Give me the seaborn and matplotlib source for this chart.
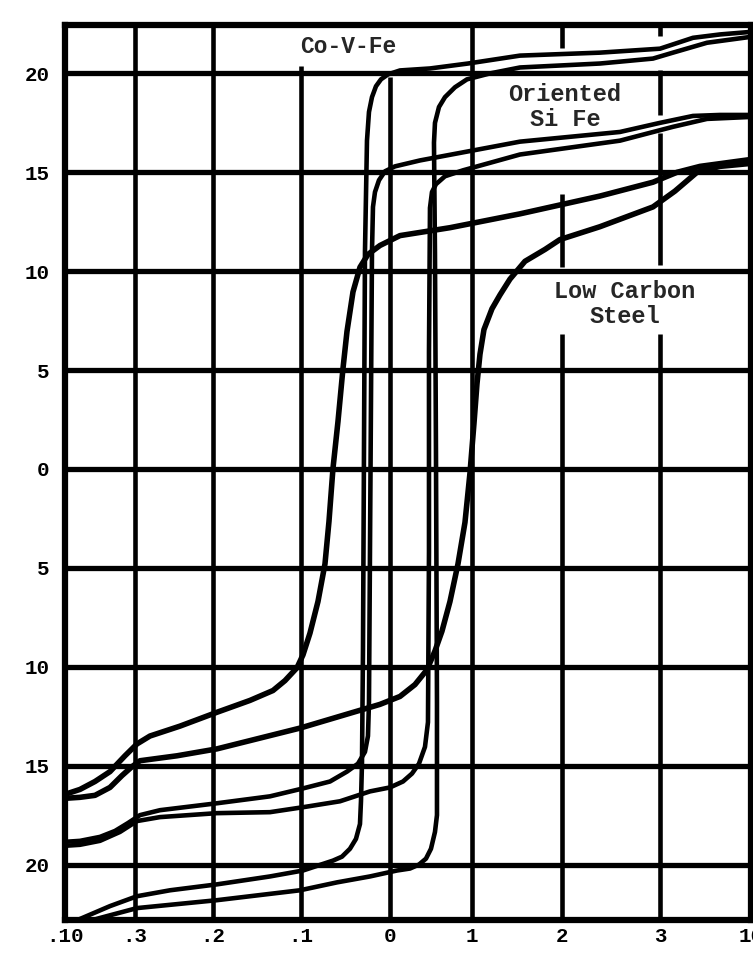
import matplotlib
matplotlib.use("Agg")
import matplotlib.pyplot as plt
import pandas as pd
import seaborn as sns

# x is in grid units (0 = the "0" line), y is B
X_TICKS = [-3.25, -2.55, -1.77, -0.89, 0.0, 0.82, 1.72, 2.70, 3.61]
X_LABELS = [".10", ".3", ".2", ".1", "0", "1", "2", "3", "10"]
Y_TICKS = [20, 15, 10, 5, 0, -5, -10, -15, -20]
Y_LABELS = ["20", "15", "10", "5", "0", "5", "10", "15", "20"]

# Low carbon steel
lc_down_h = [3.61, 3.10, 2.87, 2.63, 2.10, 1.30, 0.60, 0.10, -0.10, -0.22, -0.30, -0.37,
             -0.43, -0.47, -0.52, -0.57, -0.61, -0.65, -0.72, -0.80, -0.87, -0.93, -1.05,
             -1.17, -1.40, -1.73, -2.10, -2.40, -2.53, -2.65, -2.80, -2.95, -3.10, -3.25]
lc_down_b = [15.65, 15.3, 15.0, 14.5, 13.8, 12.9, 12.2, 11.8, 11.3, 10.85, 10.2, 8.95,
             6.95, 5.08, 2.4, 0.03, -2.65, -4.8, -6.7, -8.3, -9.4, -10.05, -10.7,
             -11.2, -11.7, -12.3, -13.0, -13.5, -13.9, -14.5, -15.3, -15.8, -16.2, -16.45]
lc_up_h = [-3.25, -3.10, -2.95, -2.80, -2.68, -2.58, -2.50, -2.13, -1.73, -0.90, -0.10,
           0.10, 0.25, 0.37, 0.45, 0.52, 0.60, 0.68, 0.75, 0.80, 0.84, 0.87, 0.90, 0.94,
           1.02, 1.10, 1.20, 1.35, 1.55, 1.70, 2.10, 2.63, 2.85, 3.07, 3.30, 3.61]
lc_up_b = [-16.65, -16.6, -16.5, -16.1, -15.5, -15.05, -14.75, -14.5, -14.15, -13.1, -11.9,
           -11.5, -10.9, -10.15, -9.2, -8.2, -6.7, -4.8, -2.7, -0.2, 2.3, 4.3, 5.8, 7.05,
           8.1, 8.8, 9.6, 10.5, 11.1, 11.6, 12.25, 13.25, 14.05, 15.0, 15.3, 15.45]

# Oriented Si Fe
si_down_h = [3.61, 3.30, 3.03, 2.70, 2.30, 1.30, 0.70, 0.30, 0.05, -0.05, -0.11, -0.15,
             -0.17, -0.18, -0.19, -0.20, -0.21, -0.22, -0.25, -0.32, -0.43, -0.60, -0.87,
             -1.20, -1.73, -2.30, -2.50, -2.62, -2.75, -2.90, -3.10, -3.25]
si_down_b = [17.9, 17.9, 17.85, 17.5, 17.04, 16.55, 15.98, 15.6, 15.3, 15.05, 14.6, 14.0,
             13.25, 10.97, 3.4, -4.2, -11.8, -13.5, -14.3, -14.9, -15.3, -15.8, -16.15,
             -16.55, -16.9, -17.25, -17.5, -17.9, -18.3, -18.6, -18.8, -18.85]
si_up_h = [-3.25, -3.10, -2.90, -2.70, -2.53, -2.30, -1.73, -1.20, -0.87, -0.50, -0.20,
           0.00, 0.13, 0.22, 0.29, 0.35, 0.38, 0.39, 0.39, 0.40, 0.42, 0.46, 0.55, 0.73,
           1.30, 2.30, 2.83, 3.17, 3.61]
si_up_b = [-19.05, -19.0, -18.8, -18.35, -17.8, -17.6, -17.4, -17.35, -17.1, -16.8, -16.3,
           -16.1, -15.8, -15.4, -14.9, -14.05, -12.8, -4.2, 5.9, 13.2, 14.0, 14.4, 14.8, 15.1,
           15.9, 16.6, 17.3, 17.7, 17.8]

# Co-V-Fe
co_down_h = [3.61, 3.30, 3.03, 2.85, 2.70, 2.10, 1.30, 0.78, 0.40, 0.10, -0.02, -0.09,
             -0.14, -0.18, -0.21, -0.23, -0.25, -0.26, -0.27, -0.28, -0.29, -0.30, -0.34,
             -0.40, -0.48, -0.57, -0.87, -1.20, -1.73, -2.20, -2.53, -2.80, -3.10, -3.25]
co_down_b = [22.1, 21.97, 21.8, 21.5, 21.25, 21.05, 20.9, 20.5, 20.25, 20.15, 19.95, 19.7,
             19.35, 18.8, 18.05, 16.6, 11.0, 0.9, -9.2, -14.9, -16.8, -17.95, -18.7,
             -19.2, -19.6, -19.8, -20.3, -20.6, -21.0, -21.3, -21.6, -22.1, -22.75, -23.05]
co_up_h = [-3.25, -2.90, -2.53, -1.73, -0.90, -0.53, -0.20, 0.07, 0.20, 0.29, 0.36, 0.41,
           0.45, 0.47, 0.47, 0.46, 0.45, 0.44, 0.45, 0.49, 0.55, 0.65, 0.77, 1.00, 1.30,
           2.10, 2.63, 2.83, 3.17, 3.61]
co_up_b = [-23.2, -22.7, -22.2, -21.8, -21.3, -20.9, -20.6, -20.3, -20.2, -20.0, -19.7, -19.2,
           -18.35, -17.5, -11.8, 0.8, 10.9, 16.5, 17.5, 18.3, 18.8, 19.3, 19.7, 20.0, 20.3,
           20.5, 20.75, 21.05, 21.55, 21.85]

branches = {
    "lc_down": (lc_down_h, lc_down_b), "lc_up": (lc_up_h, lc_up_b),
    "si_down": (si_down_h, si_down_b), "si_up": (si_up_h, si_up_b),
    "co_down": (co_down_h, co_down_b), "co_up": (co_up_h, co_up_b),
}
frames = []
for name, (h, b) in branches.items():
    frames.append(pd.DataFrame({"H": h, "B": b, "curve": name}))
df = pd.concat(frames, ignore_index=True)

sns.set_style("white")
plt.rcParams["font.family"] = ["Liberation Mono", "DejaVu Sans Mono"]
plt.rcParams["font.weight"] = "bold"

fig = plt.figure(figsize=(7.53, 9.56), dpi=100)
ax = fig.add_axes([0.0863, 0.0377, 0.911, 0.9362])

# grid, drawn by hand because parts are broken around the labels
for y in Y_TICKS:
    ax.axhline(y, color="black", lw=3.8, zorder=1)
full_v = [-2.55, -1.77, 0.82]
for x in full_v:
    ax.axvline(x, color="black", lw=3.3, zorder=1)
ax.vlines(-0.89, -23, 20.35, color="black", lw=3.3, zorder=1)
ax.vlines(0.0, -23, 19.8, color="black", lw=3.3, zorder=1)
ax.vlines([1.72, 1.72, 1.72], [21.3, 10.2, -23], [23, 13.9, 6.8], color="black", lw=3.3, zorder=1)
ax.vlines([2.70, 2.70, 2.70, 2.70], [21.9, 17.9, 10.3, -23], [23, 20.15, 17.0, 6.8],
          color="black", lw=3.3, zorder=1)

# steel loop is drawn heavier than the two square loops
sns.lineplot(data=df[df["curve"].str.startswith("lc")], x="H", y="B", units="curve",
             estimator=None, sort=False, color="black", lw=4.0, ax=ax, zorder=3)
sns.lineplot(data=df[~df["curve"].str.startswith("lc")], x="H", y="B", units="curve",
             estimator=None, sort=False, color="black", lw=3.3, ax=ax, zorder=3)

ax.set_xlim(-3.25, 3.61)
ax.set_ylim(-22.8, 22.45)
ax.set_xticks(X_TICKS)
ax.set_xticklabels(X_LABELS)
ax.set_yticks(Y_TICKS)
ax.set_yticklabels(Y_LABELS)
ax.tick_params(length=0, labelsize=15, colors="black")
ax.tick_params(axis="y", pad=11)
ax.tick_params(axis="x", pad=5)
ax.set_xlabel("")
ax.set_ylabel("")
for s in ax.spines.values():
    s.set_visible(True)
    s.set_color("black")
    s.set_linewidth(4.5)
    s.set_zorder(4)

ax.text(-0.42, 21.35, "Co-V-Fe", ha="center", va="center", fontsize=16.5, fontweight="bold")
ax.text(1.75, 18.3, "Oriented\nSi Fe", ha="center", va="center", fontsize=17,
        fontweight="bold", linespacing=1.1)
ax.text(2.35, 8.35, "Low Carbon\nSteel", ha="center", va="center", fontsize=17,
        fontweight="bold", linespacing=1.1)

fig.savefig("out.png", dpi=100)
